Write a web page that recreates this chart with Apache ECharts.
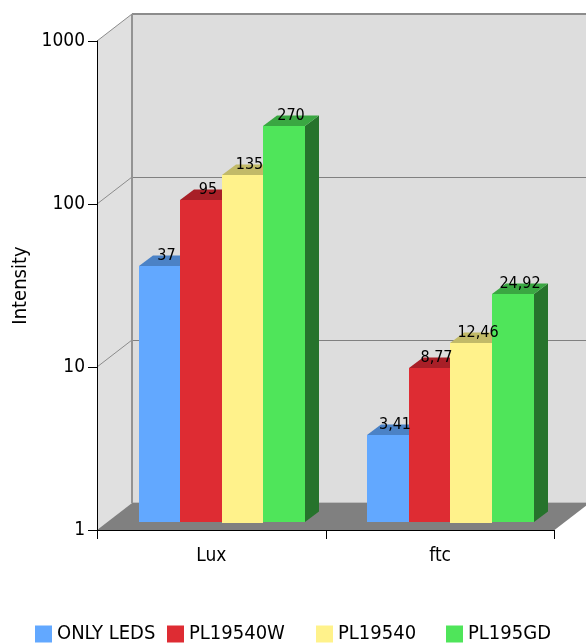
<!DOCTYPE html>
<html>
<head>
<meta charset="utf-8">
<style>html,body{margin:0;padding:0;background:#fff}#c{width:586px;height:644px}</style>
<script src="https://cdn.jsdelivr.net/npm/echarts@6/dist/echarts.min.js"></script>
</head>
<body>
<div id="c"></div>
<script>
const categories = ['Lux', 'ftc'];
const seriesNames = ['ONLY LEDS', 'PL19540W', 'PL19540', 'PL195GD'];
const onlyLeds = [37, 3.41];
const pl19540w = [95, 8.77];
const pl19540 = [135, 12.46];
const pl195gd = [270, 24.92];
const gridTicks = [1, 10, 100, 1000];

const seriesValues = [onlyLeds, pl19540w, pl19540, pl195gd];
const faceColors = ['#62a8ff', '#de2c33', '#fff28b', '#4fe55a'];
const capColors = ['#4b82c6', '#a81f27', '#c2ba68', '#3aa742'];
const sideColors = ['#33598a', '#7a161b', '#8a8549', '#26732c'];
const faceExtraHeight = [0, 0, 1, 0];
const legendLeft = [35, 167, 316, 446];

const FONT = '"DejaVu Sans Condensed","DejaVu Sans",sans-serif';
const WALL_DX = 35, WALL_DY = -27;   // depth of the 3D box
const BAR_DX = 10.825, BAR_DY = -8;  // front face of bars inside the box
const BAR_DEPTH_X = 14, BAR_DEPTH_Y = -10.5;
const GROUP_RATIO = 166.2 / 228.75;

function backdrop(params, api) {
  const cs = params.coordSys;
  const L = cs.x, R = cs.x + cs.width, T = cs.y, B = cs.y + cs.height;
  const kids = [];
  kids.push({type:'polygon', shape:{points:[[L+WALL_DX,T+WALL_DY],[R+WALL_DX,T+WALL_DY],[R+WALL_DX,B+WALL_DY],[L+WALL_DX,B+WALL_DY]]}, style:{fill:'#dddddd'}});
  kids.push({type:'polygon', shape:{points:[[L,T],[L+WALL_DX,T+WALL_DY],[L+WALL_DX,B+WALL_DY],[L,B]]}, style:{fill:'#e0e0e0'}});
  kids.push({type:'polygon', shape:{points:[[L,B],[R,B],[R+WALL_DX,B+WALL_DY],[L+WALL_DX,B+WALL_DY]]}, style:{fill:'#808080'}});
  kids.push({type:'line', shape:{x1:L+WALL_DX,y1:B+WALL_DY-0.5,x2:R+WALL_DX,y2:B+WALL_DY-0.5}, style:{stroke:'#bcbcbc',lineWidth:1}});
  gridTicks.slice(1).forEach(function (v) {
    const y = api.coord([0, v])[1];
    const top = v === gridTicks[gridTicks.length - 1];
    const gy = top ? y + WALL_DY : Math.round(y + WALL_DY) + 0.5;
    const st = {stroke: top ? '#8c8c8c' : '#808080', lineWidth: top ? 2 : 1, fill:'none'};
    kids.push({type:'line', shape:{x1:L+WALL_DX,y1:gy,x2:R+WALL_DX,y2:gy}, style:st});
    kids.push({type:'line', shape:{x1:L,y1:y,x2:L+WALL_DX,y2:y+WALL_DY}, style:{stroke:'#8c8c8c',lineWidth:1}});
  });
  kids.push({type:'line', shape:{x1:L+WALL_DX,y1:T+WALL_DY,x2:L+WALL_DX,y2:B+WALL_DY}, style:{stroke:'#939393',lineWidth:2}});
  return {type:'group', children:kids};
}

function barRenderer(si) {
  return function (params, api) {
    const cat = api.value(0), val = api.value(1);
    const band = api.size([1, 0])[0];
    const w = band * GROUP_RATIO / seriesValues.length;
    const c = api.coord([cat, val]);
    const base = api.coord([cat, 1]);
    const start = c[0] - w * seriesValues.length / 2 + BAR_DX;
    const x0 = Math.floor(start + si * w);
    const x1 = Math.floor(start + (si + 1) * w);
    const yT = Math.round(c[1] + BAR_DY), yB = Math.round(base[1] + BAR_DY);
    const dx = BAR_DEPTH_X, dy = BAR_DEPTH_Y;
    return {type:'group', children:[
      {type:'polygon', shape:{points:[[x1,yT],[x1+dx,yT+dy],[x1+dx,yB+dy],[x1,yB]]}, style:{fill:sideColors[si]}},
      {type:'polygon', shape:{points:[[x0,yT],[x1,yT],[x1+dx,yT+dy],[x0+dx,yT+dy]]}, style:{fill:capColors[si]}},
      {type:'rect', shape:{x:x0,y:yT,width:x1-x0,height:yB-yT+faceExtraHeight[si]}, style:{fill:faceColors[si]}},
      {type:'text', z2:100, style:{
        text:String(val).replace('.', ','), x:(x0+x1)/2+dx/2, y:yT+dy+0.5,
        align:'center', verticalAlign:'middle', font:'16px '+FONT, fill:'#000'}}
    ]};
  };
}

const series = [{
  type:'custom', name:'backdrop', z:1, silent:true, renderItem:backdrop,
  data:[[0, 1]], encode:{x:0, y:1}
}];
seriesValues.forEach(function (vals, si) {
  series.push({
    type:'custom', name:seriesNames[si], z:2, renderItem:barRenderer(si),
    itemStyle:{color:faceColors[si]},
    data:vals.map(function (v, i) { return [i, v]; }), encode:{x:0, y:1}
  });
});

const chart = echarts.init(document.getElementById('c'), null, {renderer:'canvas'});
chart.setOption({
  animation:false,
  backgroundColor:'#fff',
  grid:{left:97, right:31.5, top:41, bottom:114},
  legend: seriesNames.map(function (n, i) {
    return {data:[{name:n, icon:'rect'}], left:legendLeft[i], top:624, itemWidth:17, itemHeight:17,
      itemGap:5, padding:0, selectedMode:false, textStyle:{fontFamily:FONT, fontSize:20, lineHeight:17, color:'#000'}};
  }),
  xAxis:{type:'category', data:categories, z:5,
    axisLine:{lineStyle:{color:'#000', width:1}},
    axisTick:{show:true, length:9, alignWithLabel:false, lineStyle:{color:'#000'}},
    axisLabel:{color:'#000', fontFamily:FONT, fontSize:19, margin:17},
    splitLine:{show:false}},
  yAxis:{type:'log', logBase:10, min:1, max:1000, z:5,
    name:'Intensity', nameLocation:'middle', nameGap:66, nameRotate:90,
    nameTextStyle:{color:'#000', fontFamily:FONT, fontSize:20},
    axisLine:{show:true, lineStyle:{color:'#000', width:1}},
    axisTick:{show:true, length:9, lineStyle:{color:'#000'}},
    minorTick:{show:false},
    axisLabel:{color:'#000', fontFamily:FONT, fontSize:19, margin:12, padding:[2,0,0,0], formatter:function (v) { return String(v); }},
    splitLine:{show:false}},
  series:series
});
</script>
</body>
</html>
